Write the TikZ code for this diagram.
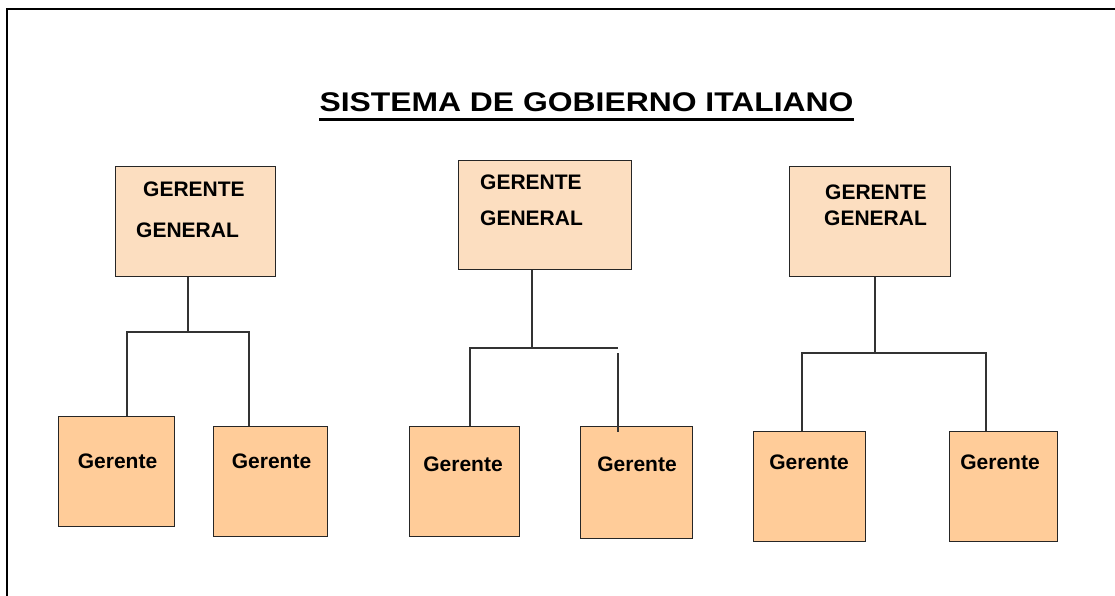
\documentclass[tikz,border=0pt]{standalone}
\usepackage{fontspec}
\setmainfont{Liberation Sans}
\usetikzlibrary{positioning}
\definecolor{boxorange}{RGB}{255,204,153}
\definecolor{paleorange}{RGB}{252,222,192}

\begin{document}
\begin{tikzpicture}[x=1pt, y=-1pt,
    chief/.style={rectangle, draw=black!85, line width=1.3pt, fill=paleorange,
                  inner sep=0pt, anchor=north west},
    mgr/.style={rectangle, draw=black!85, line width=1.3pt, fill=boxorange,
                inner sep=0pt, anchor=north west},
    lbl/.style={font=\fontsize{21}{25}\selectfont\bfseries, inner sep=0pt, anchor=base west},
    mlbl/.style={font=\fontsize{21}{25}\selectfont\bfseries, inner sep=0pt, anchor=base},
    wire/.style={line width=1.1pt, black!80},
]
\useasboundingbox (0,0) rectangle (1115,596);

% outer frame
\draw[line width=2pt] (6.5,640) -- (6.5,9.5) -- (1140,9.5);

% title
\node[font=\fontsize{27}{32}\selectfont\bfseries, xscale=1.18, inner sep=0pt] (title)
    at (586.5,102.5) {SISTEMA DE GOBIERNO ITALIANO};
\draw[line width=2.6pt] ([yshift=-7pt]title.south west) -- ([yshift=-7pt]title.south east);

% gerentes generales
\node[chief, minimum width=160pt, minimum height=110pt] (c1) at (115,166) {};
\node[chief, minimum width=173pt, minimum height=109pt] (c2) at (458,160) {};
\node[chief, minimum width=161pt, minimum height=110pt] (c3) at (789,166) {};

\node[lbl] (c1t) at (143,196) {GERENTE};
\node[lbl] (c1g) at (136,237) {GENERAL};
\node[lbl] (c2t) at (480,189.5) {GERENTE};
\node[lbl] (c2g) at (480,225) {GENERAL};
\node[lbl] (c3t) at (825,199) {GERENTE};
\node[lbl] (c3g) at (824,225) {GENERAL};

% gerentes
\node[mgr, minimum width=116pt, minimum height=110pt] (m1a) at (58,416) {};
\node[mgr, minimum width=114pt, minimum height=110pt] (m1b) at (213,426) {};
\node[mgr, minimum width=110pt, minimum height=110pt] (m2a) at (409,426) {};
\node[mgr, minimum width=112pt, minimum height=112pt] (m2b) at (580,426) {};
\node[mgr, minimum width=112pt, minimum height=110pt] (m3a) at (753,431) {};
\node[mgr, minimum width=108pt, minimum height=110pt] (m3b) at (949,431) {};

\node[mlbl] (m1at) at (117.5,468) {Gerente};
\node[mlbl] (m1bt) at (271.5,468) {Gerente};
\node[mlbl] (m2at) at (463,471) {Gerente};
\node[mlbl] (m2bt) at (637,471) {Gerente};
\node[mlbl] (m3at) at (809,469) {Gerente};
\node[mlbl] (m3bt) at (1000,469) {Gerente};

% connectors
\coordinate (j1) at (188,332);
\coordinate (b1l) at (127,332);
\coordinate (b1r) at (249,332);
\draw[wire] (c1.south -| j1) -- (j1);
\draw[wire] (m1a.north -| b1l) |- (b1r) -- (m1b.north -| b1r);

\coordinate (j2) at (532,348);
\coordinate (b2l) at (470,348);
\coordinate (b2r) at (618,348);
\coordinate (b2d) at (618,353);
\draw[wire] (c2.south -| j2) -- (j2);
\draw[wire] (m2a.north -| b2l) |- (b2r);
\draw[wire] (b2d) -- ([yshift=-6pt]m2b.north -| b2d);

\coordinate (j3) at (875,353);
\coordinate (b3l) at (802,353);
\coordinate (b3r) at (986,353);
\draw[wire] (c3.south -| j3) -- (j3);
\draw[wire] (m3a.north -| b3l) |- (b3r) -- (m3b.north -| b3r);

\end{tikzpicture}
\end{document}
